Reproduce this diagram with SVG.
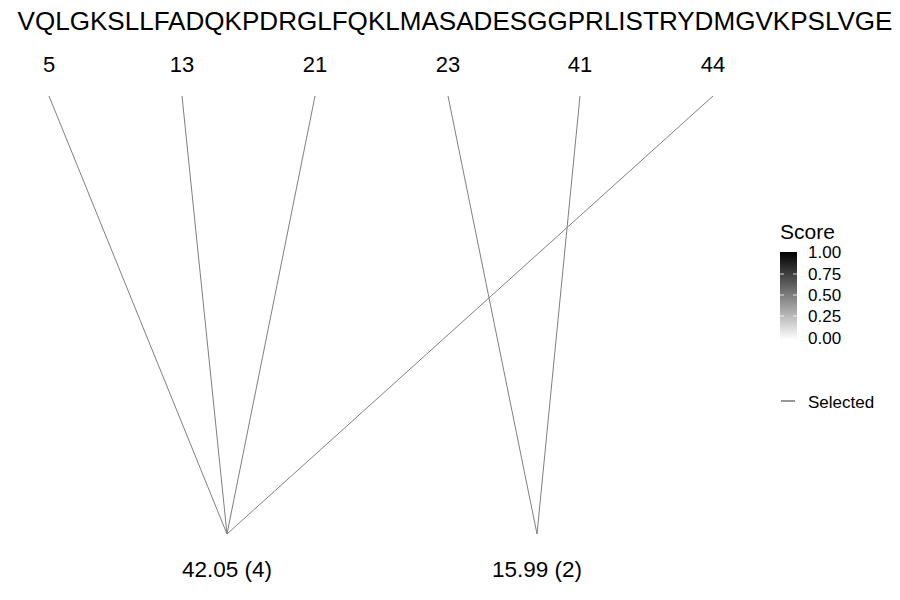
<svg xmlns="http://www.w3.org/2000/svg" width="900" height="600" viewBox="0 0 900 600">
<defs>
<linearGradient id="g" x1="0" y1="1" x2="0" y2="0">
<stop offset="0" stop-color="#ffffff"/>
<stop offset="1" stop-color="#000000"/>
</linearGradient>
<style>
text{font-family:"Liberation Sans",Arial,sans-serif;fill:#000}
.seq{font-size:25px}
.pos{font-size:22px;text-anchor:middle}
.lab{font-size:22.5px;text-anchor:middle}
.leg{font-size:17px}
.c{stroke:#7f7f7f;stroke-width:1;fill:none}
.tk{stroke:#fff;stroke-width:0.8}
</style>
</defs>
<rect width="900" height="600" fill="#fff"/>
<g id="sequence"><text class="seq" x="455" y="30" text-anchor="middle" textLength="875" lengthAdjust="spacingAndGlyphs">VQLGKSLLFADQKPDRGLFQKLMASADESGGPRLISTRYDMGVKPSLVGE</text></g>
<g id="p5"><text class="pos" x="49" y="72">5</text></g>
<g id="p13"><text class="pos" x="182" y="72">13</text></g>
<g id="p21"><text class="pos" x="315" y="72">21</text></g>
<g id="p23"><text class="pos" x="448" y="72">23</text></g>
<g id="p41"><text class="pos" x="580" y="72">41</text></g>
<g id="p44"><text class="pos" x="713" y="72">44</text></g>
<g id="connectors">
<line class="c" x1="49" y1="96" x2="227" y2="534"/>
<line class="c" x1="182" y1="96" x2="227" y2="534"/>
<line class="c" x1="315" y1="96" x2="227" y2="534"/>
<line class="c" x1="713" y1="96" x2="227" y2="534"/>
<line class="c" x1="448" y1="96" x2="537" y2="534"/>
<line class="c" x1="580" y1="96" x2="537" y2="534"/>
</g>
<g id="n1"><text class="lab" x="227" y="577">42.05 (4)</text></g>
<g id="n2"><text class="lab" x="537" y="577">15.99 (2)</text></g>
<g id="legend">
<text x="780" y="239" style="font-size:21px">Score</text>
<rect x="780" y="252" width="17" height="88" fill="url(#g)"/>
<line class="tk" x1="780" y1="316" x2="784" y2="316"/><line class="tk" x1="793" y1="316" x2="797" y2="316"/>
<line class="tk" x1="780" y1="295" x2="784" y2="295"/><line class="tk" x1="793" y1="295" x2="797" y2="295"/>
<line class="tk" x1="780" y1="274" x2="784" y2="274"/><line class="tk" x1="793" y1="274" x2="797" y2="274"/>
<text class="leg" x="808" y="258">1.00</text>
<text class="leg" x="808" y="280">0.75</text>
<text class="leg" x="808" y="301">0.50</text>
<text class="leg" x="808" y="322">0.25</text>
<text class="leg" x="808" y="344">0.00</text>
<line x1="781" y1="401" x2="795" y2="401" stroke="#333" stroke-width="1"/>
<text class="leg" x="808" y="408">Selected</text>
</g>
</svg>
